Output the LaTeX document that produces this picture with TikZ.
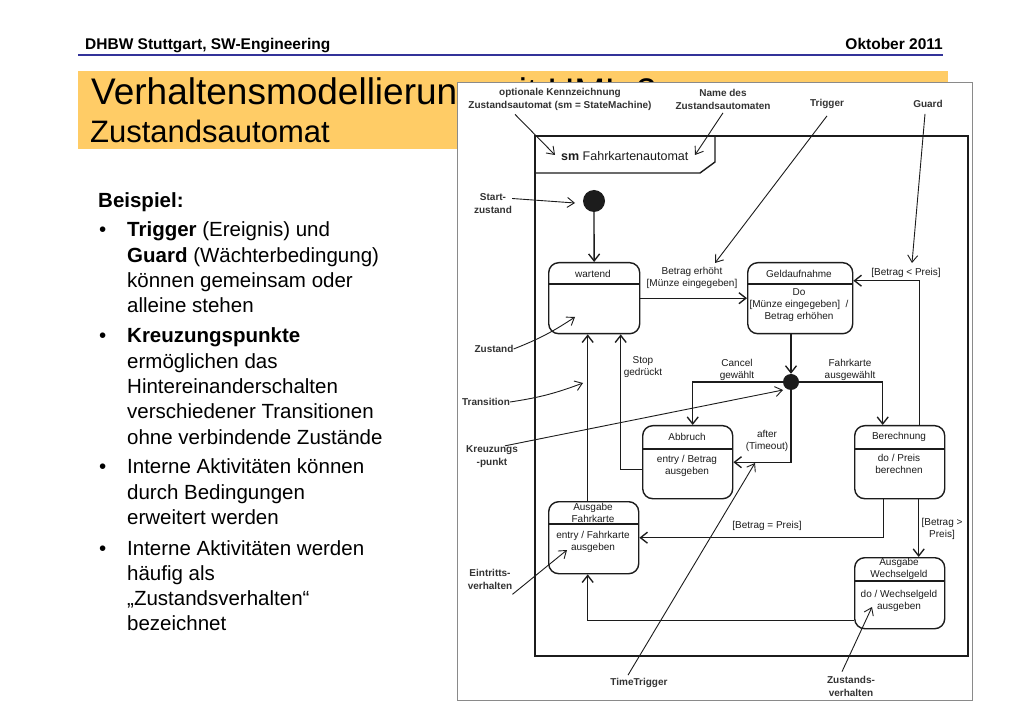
\documentclass[tikz,border=0pt]{standalone}
\usepackage{fontspec}
\setmainfont{Liberation Sans}
\usetikzlibrary{arrows.meta, positioning, calc}
\definecolor{Banner}{HTML}{FFCC66}
\definecolor{HeadBlue}{HTML}{333399}
\definecolor{Scan}{HTML}{1C1C1C}
\definecolor{ScanText}{HTML}{333333}
\definecolor{ScanEdge}{HTML}{8A8A8A}

\begin{document}
\begin{tikzpicture}[x=1pt, y=-1pt,
    zustand/.style={
        draw=Scan, line width=1.4pt, rounded corners=10pt,
        inner sep=0pt, anchor=north west
    },
    trenn/.style={draw=Scan, line width=1.3pt},
    zlbl/.style={font=\fontsize{10}{12}\selectfont, text=Scan, align=center, inner sep=0pt},
    hlbl/.style={font=\bfseries\fontsize{10}{13}\selectfont, text=ScanText, align=center, inner sep=0pt},
    pfeil/.style={draw=Scan, line width=1.35pt, -{Straight Barb[length=7pt, width=11pt]}},
    hinweis/.style={draw=Scan, line width=0.9pt, -{Straight Barb[length=7pt, width=10pt]}},
    slide/.style={font=\fontsize{20.5}{25.3}\selectfont, inner sep=0pt, anchor=base west},
    punkt/.style={circle, fill=Scan, inner sep=0pt}
]

\useasboundingbox (0,0) rectangle (1023,708);
\fill[white] (0,0) rectangle (1023,708);

% =============================================
% Kopfzeile
% =============================================
\node[anchor=base west, inner sep=0pt, font=\bfseries\fontsize{15.5}{17}\selectfont] (kopf) at (85,50) {DHBW Stuttgart, SW-Engineering};
\node[anchor=base east, inner sep=0pt, font=\bfseries\fontsize{15.5}{17}\selectfont] (datum) at (943,50) {Oktober 2011};
\draw[HeadBlue, line width=1.6pt] (78,55) -- (943,55);

% =============================================
% Titelbalken
% =============================================
\fill[Banner] (78,71) rectangle (948,149);
\node[anchor=base west, inner sep=0pt, font=\fontsize{37}{40}\selectfont] (titel) at (91,105) {Verhaltensmodellierung mit UML 2};
\node[anchor=base west, inner sep=0pt, font=\fontsize{31}{34}\selectfont] (untertitel) at (90,143) {Zustandsautomat};

% =============================================
% Text links
% =============================================
\node[slide, font=\bfseries\fontsize{20.5}{25.3}\selectfont] (beispiel) at (98,208) {Beispiel:};
\foreach \y/\n in {237/1, 343/2, 474/3, 555/4}
    \node[slide] (bullet\n) at (99,\y) {•};
\node[slide] (item1) at (127,237) {\parbox[t]{300pt}{\textbf{Trigger} (Ereignis) und\\
    \textbf{Guard} (Wächterbedingung)\\können gemeinsam oder\\alleine stehen}};
\node[slide] (item2) at (127,343) {\parbox[t]{300pt}{\textbf{Kreuzungspunkte}\\ermöglichen das\\
    Hintereinanderschalten\\verschiedener Transitionen\\ohne verbindende Zustände}};
\node[slide] (item3) at (127,474) {\parbox[t]{300pt}{Interne Aktivitäten können\\durch Bedingungen\\erweitert werden}};
\node[slide] (item4) at (127,555) {\parbox[t]{300pt}{Interne Aktivitäten werden\\häufig als\\„Zustandsverhalten“\\bezeichnet}};

% =============================================
% Diagramm (gescanntes Bild)
% =============================================
\draw[ScanEdge, fill=white, line width=0.8pt] (457,82) rectangle (972,700);
\draw[Scan, line width=1.5pt] (535,136) rectangle (968,656);
\draw[Scan, line width=1.4pt] (715,136) -- (715,162) -- (700,173) -- (535,173);
\node[anchor=base west, inner sep=0pt, text=Scan, font=\fontsize{12.5}{14}\selectfont] (smname) at (561,161) {\textbf{sm} Fahrkartenautomat};

% Start und Kreuzungspunkt
\node[punkt, minimum size=22pt] (start) at (594,201) {};
\node[punkt, minimum size=16pt] (kreuz) at (791,382) {};

% Zustaende
\node[zustand, minimum width=91pt, minimum height=71pt] (wartend) at (548,262) {};
\node[zustand, minimum width=105pt, minimum height=71pt] (geld) at (747,262) {};
\node[zustand, minimum width=90pt, minimum height=73pt] (abbruch) at (642,425) {};
\node[zustand, minimum width=90pt, minimum height=73pt] (berech) at (854,425) {};
\node[zustand, minimum width=90pt, minimum height=72pt] (ausgFK) at (548,501) {};
\node[zustand, minimum width=90pt, minimum height=71pt] (wechsel) at (854,557) {};

\foreach \z/\d in {wartend/22, geld/22, abbruch/24, berech/24, ausgFK/23, wechsel/24}
    \draw[trenn] ($(\z.north west)+(0,\d)$) -- ($(\z.north east)+(0,\d)$);

\node[zlbl] (wartendT) at (593,274) {wartend};
\node[zlbl] (geldT) at (799,274) {Geldaufnahme};
\node[zlbl] (geldB) at (799,305) {Do\\{}[Münze eingegeben]\ \ /\\Betrag erhöhen};
\node[zlbl] (abbruchT) at (687,437) {Abbruch};
\node[zlbl] (abbruchB) at (687,466) {entry / Betrag\\ausgeben};
\node[zlbl] (berechT) at (899,437) {Berechnung};
\node[zlbl] (berechB) at (899,464) {do / Preis\\berechnen};
\node[zlbl] (ausgFKT) at (593,512.5) {Ausgabe\\Fahrkarte};
\node[zlbl] (ausgFKB) at (593,541.5) {entry / Fahrkarte\\ausgeben};
\node[zlbl] (wechselT) at (899,569) {Ausgabe\\Wechselgeld};
\node[zlbl] (wechselB) at (899,601) {do / Wechselgeld\\ausgeben};

% Transitionen
\draw[pfeil] (start) -- (wartend);
\draw[pfeil] (wartend.east) -- (geld.west);
\draw[pfeil] (geld.south -| kreuz) -- (kreuz);
\draw[pfeil] (kreuz) -| ([xshift=5pt]abbruch.north);
\draw[pfeil] (kreuz) -| ([xshift=-17pt]berech.north);
\draw[pfeil] (kreuz) |- (abbruch.east);
\draw[pfeil] ([yshift=-7pt]abbruch.west) -| ([xshift=26.5pt]wartend.south);
\draw[pfeil] ([xshift=-6pt]ausgFK.north) -- ([xshift=-6pt]ausgFK.north |- wartend.south);
\draw[pfeil] ([xshift=-16pt]berech.south) |- (ausgFK.east);
\draw[pfeil] ([xshift=19pt]berech.south) -- ([xshift=19pt]wechsel.north);
\draw[pfeil] ([xshift=20pt]berech.north) |- ([yshift=17.5pt]geld.east);
\draw[pfeil] ([yshift=-27pt]wechsel.west) -| ([xshift=-6pt]ausgFK.south);

\node[zlbl] (lblBetrag) at (692,278) {Betrag erhöht\\{}[Münze eingegeben]};
\node[zlbl] (lblKleiner) at (906,273) {[Betrag < Preis]};
\node[zlbl] (lblStop) at (643,367) {Stop\\gedrückt};
\node[zlbl] (lblCancel) at (737,370) {Cancel\\gewählt};
\node[zlbl] (lblFahrkarte) at (850,370) {Fahrkarte\\ausgewählt};
\node[zlbl] (lblAfter) at (767,441) {after\\(Timeout)};
\node[zlbl] (lblGleich) at (767,526) {[Betrag = Preis]};
\node[zlbl] (lblGroesser) at (942,529) {[Betrag >\\Preis]};

% =============================================
% Hinweise
% =============================================
\node[hlbl] (optL) at (560,99) {optionale Kennzeichnung\\Zustandsautomat (sm = StateMachine)};
\node[hlbl] (nameL) at (723,99.5) {Name des\\Zustandsautomaten};
\node[hlbl] (trigL) at (827,104) {Trigger};
\node[hlbl] (guardL) at (928,104) {Guard};
\node[hlbl] (startL) at (493,203.5) {Start-\\zustand};
\node[hlbl] (zustL) at (494,349) {Zustand};
\node[hlbl] (transL) at (486,402) {Transition};
\node[hlbl] (kreuzL) at (492,457) {Kreuzungs\\-punkt};
\node[hlbl] (ttL) at (639,683) {TimeTrigger};
\node[hlbl] (eintL) at (490,579) {Eintritts-\\verhalten};
\node[hlbl] (zvL) at (851,686) {Zustands-\\verhalten};

\coordinate (optZiel) at (555,155);
\coordinate (nameZiel) at (695,155);
\coordinate (trigZiel) at (715,263);
\coordinate (guardZiel) at (912,263);
\coordinate (startZiel) at (575,203);
\coordinate (zustZiel) at (575,317);
\coordinate (transZiel) at (583,383);
\coordinate (kreuzZiel) at (783,390);
\coordinate (ttZiel) at (755,463);
\coordinate (eintZiel) at (567,550);
\coordinate (zvZiel) at (872,607);

\draw[hinweis] ([xshift=-45pt, yshift=-4pt]optL.south) -- (optZiel);
\draw[hinweis] ([yshift=-3pt]nameL.south) -- (nameZiel);
\draw[hinweis] ([yshift=-7pt]trigL.south) -- (trigZiel);
\draw[hinweis] ([xshift=-3pt, yshift=-6pt]guardL.south) -- (guardZiel);
\draw[hinweis] ([yshift=5pt]startL.east) -- (startZiel);
\draw[hinweis] (zustL.east) to[bend right=6] (zustZiel);
\draw[hinweis] (transL.east) to[bend right=6] (transZiel);
\draw[hinweis] ([xshift=13pt]kreuzL.north) -- (kreuzZiel);
\draw[hinweis] ([xshift=-11pt, yshift=3pt]ttL.north) -- (ttZiel);
\draw[hinweis] ([yshift=-5pt]eintL.south east) -- (eintZiel);
\draw[hinweis] ([xshift=-9pt, yshift=4pt]zvL.north) -- (zvZiel);

\end{tikzpicture}
\end{document}
